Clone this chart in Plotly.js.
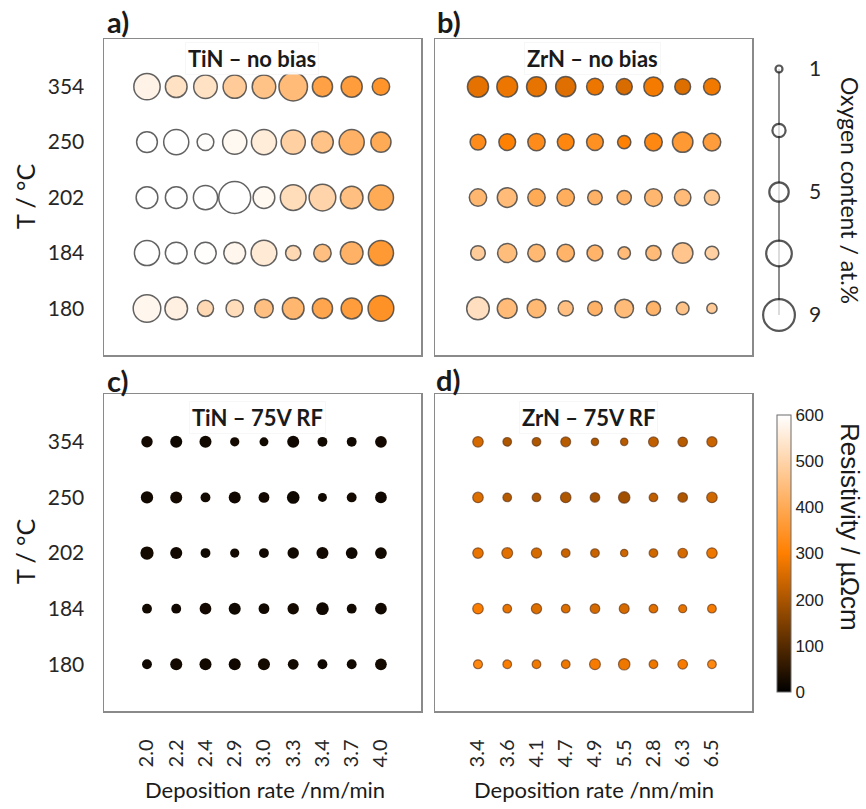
<!DOCTYPE html>
<html>
<head>
<meta charset="utf-8">
<script src="https://cdn.plot.ly/plotly-3.0.1.min.js"></script>
<style>
  html, body { margin: 0; padding: 0; background: #ffffff; }
  #chart { width: 866px; height: 809px; }
</style>
</head>
<body>
<div id="chart"></div>
<script>
// Substrate temperatures (rows, bottom to top) and deposition rates (columns)
const temperatures = ['180', '184', '202', '250', '354'];
const ratesTiN = ['2.0', '2.2', '2.4', '2.9', '3.0', '3.3', '3.4', '3.7', '4.0'];
const ratesZrN = ['3.4', '3.6', '4.1', '4.7', '4.9', '5.5', '2.8', '6.3', '6.5'];

// Oxygen content (at.%) per sample; rows follow `temperatures`
const oxygenTiN = [
  [7.8, 6.2, 4.1, 4.5, 4.9, 5.9, 5.4, 5.7, 7.2],
  [7.0, 5.9, 5.8, 5.9, 7.2, 3.8, 4.5, 6.2, 7.0],
  [5.9, 5.9, 6.7, 9.2, 5.9, 7.2, 7.5, 6.2, 7.0],
  [5.6, 7.0, 4.3, 6.7, 7.0, 6.7, 5.9, 7.0, 5.4],
  [7.4, 5.9, 6.5, 6.4, 6.5, 8.1, 5.4, 5.7, 4.5]
];
const oxygenZrN = [
  [6.2, 5.3, 4.9, 3.8, 3.6, 4.9, 3.5, 3.0, 2.2],
  [3.6, 5.1, 4.5, 4.5, 4.0, 2.9, 3.8, 5.5, 3.3],
  [4.5, 5.3, 4.5, 4.5, 3.6, 3.5, 4.6, 4.2, 3.8],
  [4.0, 4.3, 4.5, 4.3, 4.3, 3.2, 4.6, 5.5, 4.6],
  [5.7, 5.6, 5.3, 5.4, 4.3, 4.1, 5.1, 4.0, 4.3]
];
const oxygenTiNRF = [
  [1.6, 2.3, 2.3, 2.3, 2.3, 1.9, 1.6, 1.6, 2.2],
  [1.6, 1.6, 2.2, 2.3, 1.9, 2.1, 2.5, 1.6, 2.2],
  [2.7, 2.3, 1.6, 1.4, 1.6, 2.1, 2.3, 2.2, 2.2],
  [2.4, 2.3, 1.6, 2.3, 1.9, 2.5, 1.3, 1.6, 2.2],
  [2.1, 2.3, 2.3, 1.4, 1.3, 2.3, 1.6, 1.6, 2.2]
];
const oxygenZrNRF = [
  [1.7, 1.6, 1.6, 1.6, 2.3, 2.5, 1.6, 1.9, 1.6],
  [2.2, 1.6, 2.1, 1.6, 1.9, 2.0, 1.6, 1.4, 1.6],
  [2.2, 2.3, 2.1, 1.6, 1.6, 1.2, 1.6, 1.9, 2.2],
  [2.2, 1.6, 1.6, 2.2, 1.9, 2.5, 1.6, 1.9, 2.2],
  [2.2, 1.6, 1.6, 2.0, 1.2, 1.2, 2.0, 1.9, 2.1]
];

// Resistivity (µΩcm) per sample; rows follow `temperatures`
const resistivityTiN = [
  [580, 565, 510, 520, 450, 430, 390, 370, 345],
  [600, 600, 598, 580, 550, 510, 450, 420, 360],
  [600, 600, 600, 600, 585, 520, 500, 450, 400],
  [600, 600, 595, 585, 555, 490, 460, 420, 400],
  [570, 530, 530, 480, 460, 440, 380, 370, 350]
];
const resistivityZrN = [
  [525, 440, 435, 450, 420, 440, 425, 460, 475],
  [480, 445, 435, 425, 425, 440, 440, 465, 490],
  [430, 440, 400, 410, 420, 420, 430, 440, 470],
  [330, 305, 330, 318, 340, 305, 322, 360, 370],
  [268, 278, 272, 262, 278, 255, 288, 260, 285]
];
const resistivityTiNRF = [
  [18, 22, 20, 19, 24, 21, 17, 20, 23],
  [21, 19, 22, 18, 20, 23, 19, 21, 20],
  [24, 20, 18, 22, 19, 20, 22, 18, 21],
  [20, 23, 21, 19, 22, 18, 20, 24, 19],
  [22, 18, 20, 23, 21, 19, 21, 20, 22]
];
const resistivityZrNRF = [
  [320, 295, 285, 280, 290, 280, 280, 290, 320],
  [295, 275, 260, 260, 250, 250, 265, 270, 290],
  [275, 265, 250, 235, 235, 240, 245, 250, 280],
  [260, 215, 205, 205, 190, 190, 225, 205, 245],
  [250, 205, 205, 215, 205, 215, 225, 215, 235]
];

// Size key values (at.%) and the labelled ones
const oxygenKey = [1, 3, 5, 7, 9];
const oxygenKeyLabels = [1, 5, 9];
const resistivityTicks = [0, 100, 200, 300, 400, 500, 600];

// Bubble diameter grows linearly with oxygen content
const diameter = o => 4.9 + 3.1 * o;

const W = 866, H = 809;
const px = x => x / W;
const py = y => 1 - y / H;

function panel(rates, oxygen, rho, xa, ya, line) {
  const x = [], y = [], size = [], color = [];
  temperatures.forEach((t, i) => {
    rates.forEach((r, j) => {
      x.push(r);
      y.push(t);
      size.push(diameter(oxygen[i][j]) - line.width);
      color.push(rho[i][j]);
    });
  });
  return {
    type: 'scatter', mode: 'markers', x, y, xaxis: xa, yaxis: ya,
    marker: { size, color, coloraxis: 'coloraxis', line, opacity: 1 },
    hoverinfo: 'skip', cliponaxis: false
  };
}

const greyRim = { color: 'rgba(70,70,70,0.85)', width: 1.5 };
const brownRim = { color: 'rgba(95,50,20,0.65)', width: 1.2 };
const noRim = { color: 'rgba(0,0,0,0)', width: 0 };

const traces = [
  panel(ratesTiN, oxygenTiN, resistivityTiN, 'x', 'y', greyRim),
  panel(ratesZrN, oxygenZrN, resistivityZrN, 'x2', 'y2', greyRim),
  panel(ratesTiN, oxygenTiNRF, resistivityTiNRF, 'x3', 'y3', noRim),
  panel(ratesZrN, oxygenZrNRF, resistivityZrNRF, 'x4', 'y4', brownRim),
  {
    type: 'scatter', mode: 'lines', x: [0, 0],
    y: [oxygenKey[0], oxygenKey[oxygenKey.length - 1]],
    xaxis: 'x5', yaxis: 'y5',
    line: { color: '#8c8c8c', width: 2 }, hoverinfo: 'skip'
  },
  {
    type: 'scatter', mode: 'markers', x: oxygenKey.map(() => 0), y: oxygenKey,
    xaxis: 'x5', yaxis: 'y5',
    marker: { size: oxygenKey.map(o => diameter(o) - 1), color: '#ffffff',
              line: { color: '#111111', width: 2.2 } },
    hoverinfo: 'skip', cliponaxis: false
  }
];

const textFont = 'Lato, "Open Sans", sans-serif';
const frame = {
  showline: true, mirror: true, linecolor: '#8a8a8a', linewidth: 1.5,
  showgrid: false, zeroline: false, ticks: '', fixedrange: true
};
const domLeft = [px(104), px(421)];
const domRight = [px(435), px(752)];
const domTop = [py(355), py(39)];
const domBottom = [py(711), py(394)];
const xRange = [-1.47, 9.37];
const yRange = [-0.84, 4.86];
const tickFont = { family: textFont, size: 21, color: '#262626' };

const xCat = (rates, dom, anchor, labels) => Object.assign({}, frame, {
  domain: dom, anchor, type: 'category', categoryorder: 'array',
  categoryarray: rates, range: xRange, showticklabels: labels,
  tickangle: -90, tickfont: { family: textFont, size: 20, color: '#262626' },
  ticklabelstandoff: 19
});
const yCat = (dom, anchor, labels) => Object.assign({}, frame, {
  domain: dom, anchor, type: 'category', categoryorder: 'array',
  categoryarray: temperatures, range: yRange, showticklabels: labels,
  tickfont: tickFont, ticklabelstandoff: 14
});

const ann = (text, x, y, size, opts) => Object.assign({
  text, xref: 'paper', yref: 'paper', x: px(x), y: py(y),
  xanchor: 'center', yanchor: 'middle', showarrow: false,
  font: { family: textFont, size, color: '#1a1a1a' }
}, opts || {});

const titleBox = { bgcolor: 'rgba(255,255,255,0.95)', bordercolor: 'rgba(215,215,215,0.2)', borderwidth: 1, borderpad: 2 };

const layout = {
  width: W, height: H,
  margin: { l: 0, r: 0, t: 0, b: 0 },
  paper_bgcolor: '#ffffff', plot_bgcolor: '#ffffff',
  showlegend: false,
  xaxis: xCat(ratesTiN, domLeft, 'y', false),
  yaxis: yCat(domTop, 'x', true),
  xaxis2: xCat(ratesZrN, domRight, 'y2', false),
  yaxis2: yCat(domTop, 'x2', false),
  xaxis3: xCat(ratesTiN, domLeft, 'y3', true),
  yaxis3: yCat(domBottom, 'x3', true),
  xaxis4: xCat(ratesZrN, domRight, 'y4', true),
  yaxis4: yCat(domBottom, 'x4', false),
  xaxis5: { domain: [px(759), px(799)], range: [-1, 1], visible: false, anchor: 'y5', fixedrange: true },
  yaxis5: {
    domain: [py(335), py(49)], range: [9.65, 0.35], anchor: 'x5', side: 'right',
    showline: false, showgrid: false, zeroline: false, ticks: '',
    tickvals: oxygenKeyLabels, ticktext: oxygenKeyLabels.map(String),
    tickfont: tickFont, ticklabelstandoff: 9, fixedrange: true
  },
  coloraxis: {
    cmin: 0, cmax: 600,
    colorscale: [[0, '#000000'], [0.5, '#ff7f00'], [1, '#ffffff']],
    colorbar: {
      x: px(777), xanchor: 'left', xpad: 0,
      y: py(553.5), yanchor: 'middle', ypad: 0,
      len: 277, lenmode: 'pixels', thickness: 14, thicknessmode: 'pixels',
      outlinecolor: '#6b6b6b', outlinewidth: 1,
      tickvals: resistivityTicks, ticks: '',
      tickfont: { family: '"Liberation Sans", Arial, sans-serif', size: 17, color: '#222222' }
    }
  },
  annotations: [
    ann('<b>a)</b>', 118, 22, 29),
    ann('<b>b)</b>', 449, 22, 29),
    ann('<b>c)</b>', 117, 380, 29),
    ann('<b>d)</b>', 448, 379, 29),
    ann('<b>TiN – no bias</b>', 252, 58, 22, titleBox),
    ann('<b>ZrN – no bias</b>', 592, 58, 22, titleBox),
    ann('<b>TiN – 75V RF</b>', 257, 417, 22, titleBox),
    ann('<b>ZrN – 75V RF</b>', 588, 417, 22, titleBox),
    ann('T / °C', 25, 197, 25, { textangle: -90 }),
    ann('T / °C', 25, 552, 25, { textangle: -90 }),
    ann('Deposition rate /nm/min', 265, 789, 22),
    ann('Deposition rate /nm/min', 594, 789, 22),
    ann('Oxygen content / at.%', 850, 190, 23, { textangle: 90 }),
    ann('Resistivity / µΩcm', 850, 527, 26,
        { textangle: 90, font: { family: '"Liberation Sans", Arial, sans-serif', size: 26, color: '#1a1a1a' } })
  ]
};

Plotly.newPlot('chart', traces, layout, { staticPlot: true, displayModeBar: false });
</script>
</body>
</html>
